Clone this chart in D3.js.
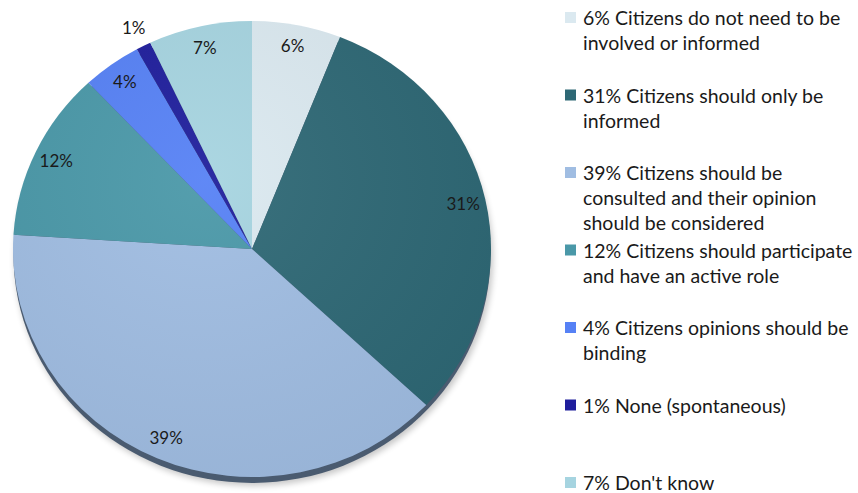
<!DOCTYPE html>
<html>
<head>
<meta charset="utf-8">
<script src="https://cdn.jsdelivr.net/npm/d3@7"></script>
<style>
  html, body { margin: 0; padding: 0; background: #fff; }
  svg { display: block; }
  text { font-family: Lato, "Open Sans", sans-serif; fill: #1a1a1a; }
</style>
</head>
<body>
<svg id="chart" width="858" height="493"></svg>
<script>
// Survey answers: share of respondents per answer
const categories = [
  "Citizens do not need to be involved or informed",
  "Citizens should only be informed",
  "Citizens should be consulted and their opinion should be considered",
  "Citizens should participate and have an active role",
  "Citizens opinions should be binding",
  "None (spontaneous)",
  "Don't know"
];
const values = [6, 31, 39, 12, 4, 1, 7];
const colors = ["#dbe9f0", "#2e6875", "#a0bde2", "#4a98a8", "#5681f5", "#1f1e9c", "#a6d4e0"];
// Legend text, wrapped as it is printed
const legendLines = [
  ["6% Citizens do not need to be", "involved or informed"],
  ["31% Citizens should only be", "informed"],
  ["39% Citizens should be", "consulted and their opinion", "should be considered"],
  ["12% Citizens should participate", "and have an active role"],
  ["4% Citizens opinions should be", "binding"],
  ["1% None (spontaneous)"],
  ["7% Don't know"]
];

const svg = d3.select("#chart");
const cx = 252, cy = 249, rx = 239, ry = 228;
const sx = rx / ry;

const defs = svg.append("defs");
const blur = defs.append("filter").attr("id", "soft")
  .attr("x", "-10%").attr("y", "-10%").attr("width", "120%").attr("height", "120%");
blur.append("feGaussianBlur").attr("stdDeviation", 3);

const shade = defs.append("radialGradient").attr("id", "shade")
  .attr("cx", "40%").attr("cy", "35%").attr("r", "70%");
shade.append("stop").attr("offset", "0%").attr("stop-color", "#fff").attr("stop-opacity", 0.06);
shade.append("stop").attr("offset", "100%").attr("stop-color", "#000").attr("stop-opacity", 0.05);

// Base of the disc: soft cast shadow and dark rim below the face
svg.append("ellipse")
  .attr("cx", cx + 2).attr("cy", cy + 9).attr("rx", rx).attr("ry", ry)
  .attr("fill", "#000").attr("opacity", 0.22).attr("filter", "url(#soft)");
svg.append("ellipse")
  .attr("cx", cx).attr("cy", cy + 6).attr("rx", rx - 0.5).attr("ry", ry)
  .attr("fill", "#4a5b70");

const pie = d3.pie().sort(null).value(d => d)
  .startAngle(0).endAngle(2 * Math.PI);
const arcs = pie(values);
const arc = d3.arc().innerRadius(0).outerRadius(ry);

const face = svg.append("g")
  .attr("transform", `translate(${cx},${cy}) scale(${sx},1)`);
face.selectAll("path.slice")
  .data(arcs)
  .join("path")
  .attr("class", "slice")
  .attr("d", arc)
  .attr("fill", (d, i) => colors[i]);
face.append("circle").attr("r", ry).attr("fill", "url(#shade)");

// Percentage labels; the thin slice gets its label outside the rim
const labelArc = d3.arc().innerRadius(ry * 0.905).outerRadius(ry * 0.905);
const outerArc = d3.arc().innerRadius(ry * 1.09).outerRadius(ry * 1.09);
svg.append("g")
  .selectAll("text")
  .data(arcs)
  .join("text")
  .attr("transform", d => {
    const [x, y] = (d.data < 2 ? outerArc : labelArc).centroid(d);
    return `translate(${cx + x * sx},${cy + y})`;
  })
  .attr("text-anchor", "middle")
  .attr("dy", "0.35em")
  .style("font-size", "17px")
  .text(d => d.data + "%");

// Legend
const legY = d3.scalePoint().domain(d3.range(values.length)).range([25, 490]);
const leg = svg.append("g");
const item = leg.selectAll("g").data(legendLines).join("g")
  .attr("transform", (d, i) => `translate(565,${legY(i)})`);
item.append("rect")
  .attr("x", 0).attr("y", -13).attr("width", 11).attr("height", 11)
  .attr("fill", (d, i) => colors[i]);
item.each(function(lines) {
  const t = d3.select(this).append("text").attr("x", 18).style("font-size", "19.5px");
  lines.forEach((s, j) => t.append("tspan").attr("x", 18).attr("dy", j ? 25 : 0).text(s));
});
</script>
</body>
</html>
